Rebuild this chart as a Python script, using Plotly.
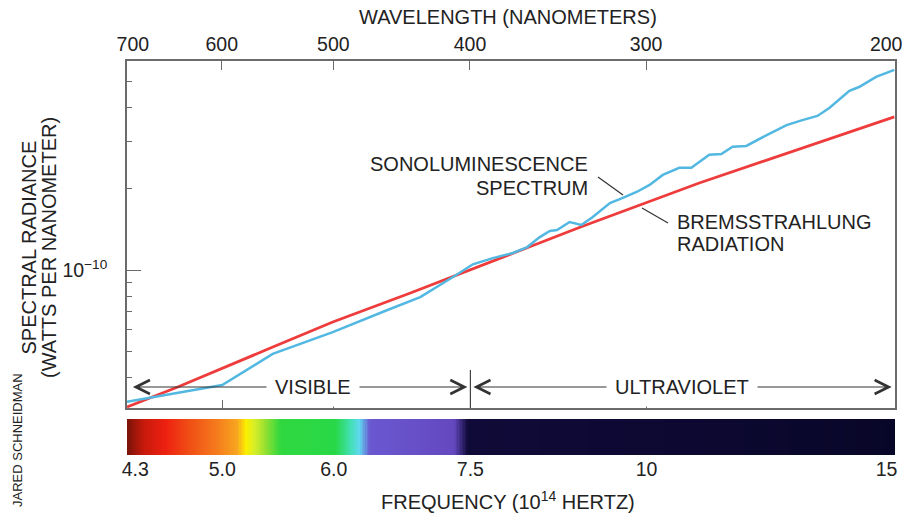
import numpy as np
import plotly.graph_objects as go

# ---- data (frequency in 10^14 Hz, spectral radiance in W/nm) ----
freq_sono = [4.28, 5.00, 5.43, 5.99, 6.55, 6.91, 7.29, 7.53, 7.78, 8.04, 8.23, 8.40,
             8.54, 8.64, 8.82, 8.99, 9.16, 9.42, 9.62, 9.84, 10.05, 10.27, 10.55, 10.76,
             11.08, 11.30, 11.51, 11.77, 12.17, 12.57, 12.90, 13.22, 13.48, 13.93, 14.15,
             14.55, 14.99]
rad_sono = [3.25e-11, 3.75e-11, 4.89e-11, 5.89e-11, 7.11e-11, 7.94e-11, 9.42e-11, 1.05e-10,
            1.107e-10, 1.156e-10, 1.216e-10, 1.324e-10, 1.394e-10, 1.406e-10, 1.506e-10,
            1.468e-10, 1.572e-10, 1.77e-10, 1.85e-10, 1.945e-10, 2.065e-10, 2.25e-10,
            2.39e-10, 2.39e-10, 2.67e-10, 2.69e-10, 2.86e-10, 2.88e-10, 3.16e-10, 3.44e-10,
            3.59e-10, 3.72e-10, 3.98e-10, 4.61e-10, 4.76e-10, 5.19e-10, 5.51e-10]

freq_brems = [4.28, 4.65, 5.41, 5.99, 6.80, 7.50, 8.97, 10.90, 12.84, 14.99]
rad_brems = [3.11e-11, 3.69e-11, 5.14e-11, 6.42e-11, 8.22e-11, 1.00e-10, 1.44e-10,
             2.10e-10, 2.81e-10, 3.69e-10]

NB = "\u00a0"
wavelength_ticks = [700, 600, 500, 400, 300, 200]
wavelength_text = [NB * 2 + "700", "600", "500", "400", "300", "200" + NB * 3]
freq_ticks = [4.3, 5.0, 6.0, 7.5, 10, 15]
freq_tick_text = [NB * 2 + "4.3", "5.0", "6.0", "7.5", "10", "15" + NB * 3]
freq_inner_ticks = [5.0, 6.0, 10]
rad_major_ticks = [1e-10]
rad_major_text = ["10<sup>\u221210</sup>"]
rad_minor_ticks = [4e-11, 5e-11, 6e-11, 7e-11, 8e-11, 9e-11, 2e-10, 3e-10, 4e-10, 5e-10]

spectrum_freq = [4.28, 4.40, 4.56, 4.72, 4.95, 5.12, 5.20, 5.27, 5.36, 5.50, 6.02, 6.16,
                 6.26, 6.36, 7.30, 7.47, 15.0]
spectrum_colors = ["#7a1208", "#c81a0c", "#ee2010", "#f04a14", "#f57a1c", "#f8a420",
                   "#faf000", "#d8ee28", "#98e030", "#30d840", "#28d848", "#40e0b0",
                   "#60d8f0", "#6a58d0", "#6448c0", "#100a38", "#080628"]

band_names = ["VISIBLE", "ULTRAVIOLET"]
band_lo = [4.3, 7.5]
band_hi = [7.5, 15.0]
band_label_f = [5.8, 10.6]
band_divider = 7.5

C = 2998.0  # nm * 10^14 Hz
F_MIN, F_MAX = 4.28, 15.0
XR = [np.log10(F_MIN), np.log10(F_MAX) + 0.0002]
YR = [-10.511, -9.226]

FONT = "Liberation Sans, Arial, Helvetica, sans-serif"
TXT = "#222222"
AX = "#6b6b6b"
RED = "#ee3b3b"
BLUE = "#52b8e2"

fig = go.Figure()

# spectrum bar
edges = np.geomspace(spectrum_freq[0], spectrum_freq[-1], 501)
centers = np.sqrt(edges[:-1] * edges[1:])
f0, f1 = spectrum_freq[0], spectrum_freq[-1]
cscale = [[(f - f0) / (f1 - f0), c] for f, c in zip(spectrum_freq, spectrum_colors)]
fig.add_trace(go.Heatmap(x=edges, y=[0, 1], z=[centers], colorscale=cscale,
                         zmin=f0, zmax=f1, showscale=False, hoverinfo="skip",
                         xaxis="x2", yaxis="y2"))

fig.add_trace(go.Scatter(x=freq_brems, y=rad_brems, mode="lines",
                         line=dict(color=RED, width=2.8), name="Bremsstrahlung",
                         showlegend=False))
fig.add_trace(go.Scatter(x=freq_sono, y=rad_sono, mode="lines",
                         line=dict(color=BLUE, width=2.5), name="Sonoluminescence",
                         showlegend=False))
# anchor trace for the top (wavelength) axis
fig.add_trace(go.Scatter(x=[F_MIN], y=[1e-10], xaxis="x3", yaxis="y", mode="markers",
                         marker=dict(opacity=0), showlegend=False, hoverinfo="skip"))

tickfont = dict(family=FONT, size=19.5, color=TXT)
fig.update_layout(
    width=910, height=514,
    margin=dict(l=119, r=23, t=53, b=67, autoexpand=False),
    paper_bgcolor="white", plot_bgcolor="white",
    showlegend=False,
    xaxis=dict(type="log", range=XR, domain=[0, 1], anchor="y", automargin=False,
               showline=True, linecolor=AX, linewidth=1.5,
               ticks="inside", tickvals=freq_inner_ticks, ticklen=8, tickwidth=1.3,
               tickcolor=AX, showticklabels=False, showgrid=False, zeroline=False),
    xaxis3=dict(type="log", range=XR, overlaying="x", side="top", anchor="y",
                automargin=False, ticklabeloverflow="allow",
                showline=True, linecolor=AX, linewidth=1.5,
                ticks="inside", tickvals=[C / w for w in wavelength_ticks],
                ticktext=wavelength_text, ticklen=9, tickwidth=1.3,
                tickcolor=AX, tickfont=tickfont, showgrid=False, zeroline=False),
    yaxis=dict(type="log", range=YR, domain=[0.1193, 1], anchor="x", automargin=False,
               showline=True, mirror=True, linecolor=AX, linewidth=1.6,
               ticks="inside", tickvals=rad_major_ticks, ticktext=rad_major_text,
               ticklen=14, tickwidth=1.3, tickcolor=AX, tickfont=tickfont,
               ticklabelstandoff=14,
               minor=dict(tickvals=rad_minor_ticks, ticks="inside", ticklen=5,
                          tickwidth=1.2, tickcolor=AX, showgrid=False),
               showgrid=False, zeroline=False),
    xaxis2=dict(type="log", range=XR, domain=[0, 1], anchor="y2", automargin=False,
                ticklabeloverflow="allow",
                tickvals=freq_ticks, ticktext=freq_tick_text, ticks="",
                showline=False, showgrid=False, zeroline=False, tickfont=tickfont),
    yaxis2=dict(domain=[0, 0.0914], range=[0, 1], visible=False, anchor="x2",
                automargin=False),
)

def px(xp):
    return (xp - 127) / 768.0

def py(yp):
    return (455 - yp) / 394.0

def label(text, x, y, size=20, xanchor="center", angle=0):
    return dict(text=text, x=px(x), y=py(y), xref="paper", yref="paper",
                xanchor=xanchor, yanchor="middle", textangle=angle, showarrow=False,
                font=dict(family=FONT, size=size, color=TXT))

ann = [
    label("WAVELENGTH (NANOMETERS)", 508, 17),
    label("FREQUENCY (10<sup>14</sup> HERTZ)", 508, 500),
    label("SPECTRAL RADIANCE", 28.5, 248, angle=-90),
    label("(WATTS PER NANOMETER)", 49, 248, angle=-90),
    label("JARED SCHNEIDMAN", 17, 440, size=13, angle=-90),
    label("SONOLUMINESCENCE", 590, 164, xanchor="right"),
    label("SPECTRUM", 590, 187.5, xanchor="right"),
    label("BREMSSTRAHLUNG", 675, 222, xanchor="left"),
    label("RADIATION", 675, 243.5, xanchor="left"),
]

# band arrows
arrow_y = py(387)
for name, lo, hi, lf in zip(band_names, band_lo, band_hi, band_label_f):
    for tip in (lo, hi):
        ann.append(dict(x=np.log10(tip), y=arrow_y, xref="x", yref="paper",
                        ax=np.log10(lf), ay=0, axref="x", ayref="pixel",
                        text="", showarrow=True, arrowhead=5, arrowsize=2.3,
                        arrowwidth=1.2, arrowcolor="#333333", standoff=3))
for name, lf in zip(band_names, band_label_f):
    ann.append(dict(x=np.log10(lf), y=arrow_y, xref="x", yref="paper", text=name,
                    xanchor="center", yanchor="middle",
                    showarrow=False, bgcolor="white", borderpad=8,
                    font=dict(family=FONT, size=20, color=TXT)))
fig.update_layout(annotations=ann)

shapes = [
    dict(type="line", xref="x", yref="paper", x0=band_divider, x1=band_divider,
         y0=py(408), y1=py(370), line=dict(color="#444444", width=1.2)),
    dict(type="line", xref="paper", yref="paper", x0=px(598), y0=py(177),
         x1=px(623), y1=py(195), line=dict(color="#333333", width=1.2)),
    dict(type="line", xref="paper", yref="paper", x0=px(642), y0=py(208),
         x1=px(668), y1=py(223), line=dict(color="#333333", width=1.2)),
]
fig.update_layout(shapes=shapes)

fig.write_html("out.html")
